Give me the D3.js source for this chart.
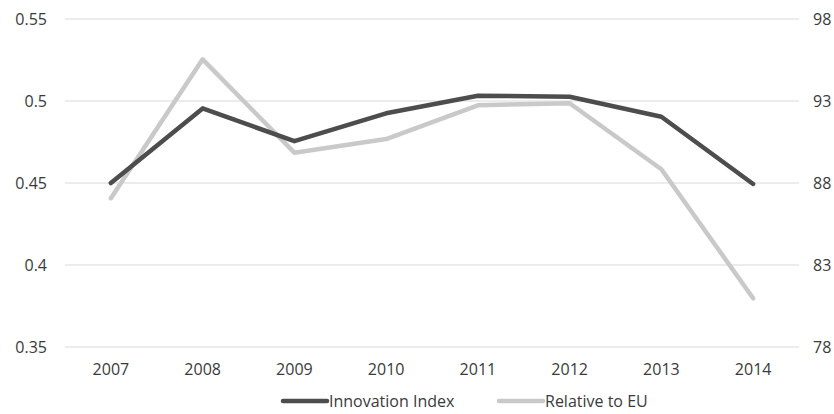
<!DOCTYPE html>
<html>
<head>
<meta charset="utf-8">
<script src="https://cdn.jsdelivr.net/npm/d3@7"></script>
<style>
  body { margin: 0; background: #fff; }
  text { font-family: "Open Sans", sans-serif; fill: #3a3a3a; }
</style>
</head>
<body>
<div class="chart"></div>
<script>
// data
var years = ["2007", "2008", "2009", "2010", "2011", "2012", "2013", "2014"];
var innovationIndex = [0.450, 0.4955, 0.4755, 0.4925, 0.5032, 0.5026, 0.4904, 0.4494];
var relativeToEU = [87.07, 95.54, 89.85, 90.68, 92.74, 92.86, 88.84, 80.97];
var leftTicks = [0.35, 0.4, 0.45, 0.5, 0.55];
var rightTicks = [78, 83, 88, 93, 98];

// dimensions
var margin = {top: 19, bottom: 67, right: 35, left: 65};
var width = 834 - margin.left - margin.right;
var height = 414 - margin.top - margin.bottom;

var svg = d3.select(".chart")
    .append("svg")
    .attr("width", 834)
    .attr("height", 414)
    .append("g")
    .attr("transform", "translate(" + margin.left + "," + margin.top + ")");

var x = d3.scaleBand()
    .domain(years)
    .range([0, width]);
var yL = d3.scaleLinear()
    .domain([0.35, 0.55])
    .range([height, 0]);
var yR = d3.scaleLinear()
    .domain([78, 98])
    .range([height, 0]);

// gridlines
svg.append("g")
    .selectAll("line")
    .data(leftTicks)
    .enter().append("line")
    .attr("x1", 0).attr("x2", width)
    .attr("y1", function(d) { return yL(d); })
    .attr("y2", function(d) { return yL(d); })
    .attr("stroke", "#d9d9d9")
    .attr("stroke-width", 1);

// axes
var fmtL = function(d) { return String(+d.toFixed(2)); };
var axL = svg.append("g")
    .call(d3.axisLeft(yL).tickValues(leftTicks).tickFormat(fmtL).tickSize(0).tickPadding(18));
var axR = svg.append("g")
    .attr("transform", "translate(" + width + ",0)")
    .call(d3.axisRight(yR).tickValues(rightTicks).tickSize(0).tickPadding(14));
var axB = svg.append("g")
    .attr("transform", "translate(0," + height + ")")
    .call(d3.axisBottom(x).tickSize(0).tickPadding(17));

[axL, axR, axB].forEach(function(a) {
  a.select(".domain").remove();
  a.selectAll("text").style("font-size", "16px").style("font-family", "Open Sans, sans-serif").attr("fill", "#3a3a3a");
});

// lines
var lineL = d3.line()
    .x(function(d, i) { return x(years[i]) + x.bandwidth() / 2; })
    .y(function(d) { return yL(d); });
var lineR = d3.line()
    .x(function(d, i) { return x(years[i]) + x.bandwidth() / 2; })
    .y(function(d) { return yR(d); });

svg.append("path")
    .datum(relativeToEU)
    .attr("fill", "none")
    .attr("stroke", "#c9c9c9")
    .attr("stroke-width", 4.5)
    .attr("stroke-linejoin", "round")
    .attr("stroke-linecap", "round")
    .attr("d", lineR);

svg.append("path")
    .datum(innovationIndex)
    .attr("fill", "none")
    .attr("stroke", "#4d4d4d")
    .attr("stroke-width", 4.5)
    .attr("stroke-linejoin", "round")
    .attr("stroke-linecap", "round")
    .attr("d", lineL);

// legend
var legend = d3.select("svg").append("g");
var items = [
  {name: "Innovation Index", color: "#4d4d4d", x: 283},
  {name: "Relative to EU", color: "#c9c9c9", x: 499}
];
items.forEach(function(it) {
  legend.append("line")
      .attr("x1", it.x).attr("x2", it.x + 44)
      .attr("y1", 401).attr("y2", 401)
      .attr("stroke", it.color)
      .attr("stroke-width", 4.5)
      .attr("stroke-linecap", "round");
  legend.append("text")
      .attr("x", it.x + 46).attr("y", 401)
      .attr("dominant-baseline", "central")
      .style("font-size", "16px")
      .text(it.name);
});
</script>
</body>
</html>
